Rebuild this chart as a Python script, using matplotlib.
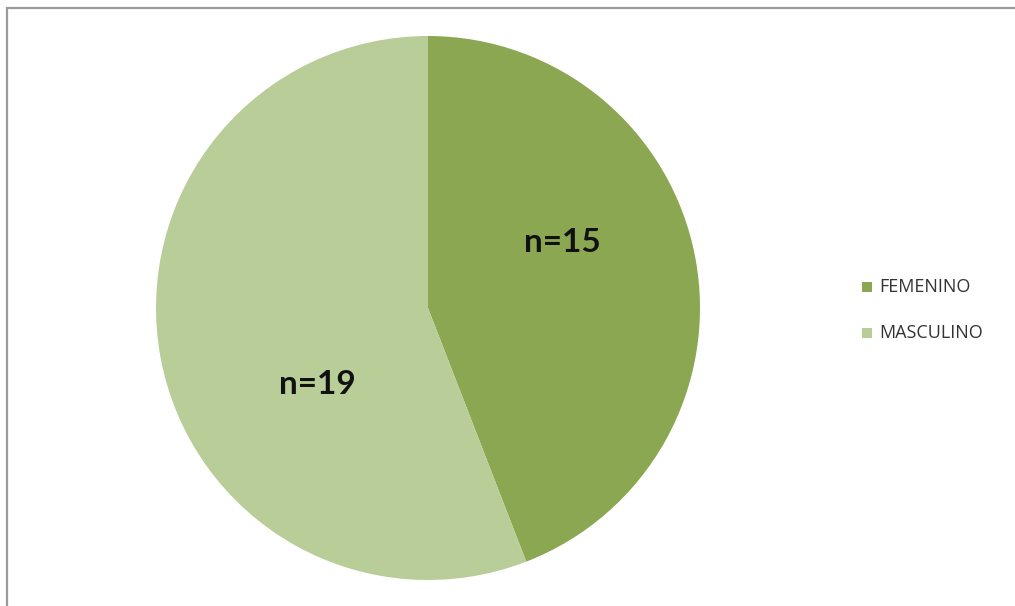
import matplotlib
matplotlib.use("Agg")
import matplotlib.pyplot as plt
from matplotlib.patches import Rectangle

categories = ["FEMENINO", "MASCULINO"]
counts = [15, 19]
colors = ["#8BA752", "#B8CD97"]

W, H = 1015, 606
fig = plt.figure(figsize=(W / 100, H / 100), dpi=100)
fig.patch.set_facecolor("white")

# chart frame (open on right and bottom)
fig.add_artist(Rectangle((7 / W, -0.05), 1.1, 1 - 8 / H + 0.05,
                         transform=fig.transFigure, fill=False,
                         edgecolor="#9a9a9a", linewidth=1.6))

# pie axes: centre (428, 308), radius 272 px
cx, cy, r = 428, 308, 272
ax = fig.add_axes([(cx - r) / W, (H - cy - r) / H, 2 * r / W, 2 * r / H])
wedges, _ = ax.pie(counts, colors=colors, startangle=90, counterclock=False,
                   radius=1.0, wedgeprops=dict(linewidth=0))
ax.set_xlim(-1, 1)
ax.set_ylim(-1, 1)
ax.set_aspect("equal")
ax.axis("off")

# in-slice labels
label_pos = [(0.495, 0.24), (-0.405, -0.28)]
for (x, y), n in zip(label_pos, counts):
    ax.text(x, y, f"n={n}", ha="center", va="center", fontsize=24,
            fontweight="bold", family="Lato", color="#111111")

# legend
for i, (cat, col) in enumerate(zip(categories, colors)):
    ly = 1 - (287 + i * 46) / H
    fig.add_artist(Rectangle((862 / W, ly - 5 / H), 10 / W, 10 / H,
                             transform=fig.transFigure, facecolor=col,
                             edgecolor="none"))
    fig.text(879 / W, ly, cat, ha="left", va="center", fontsize=13,
             family="Open Sans", color="#333333")

fig.savefig("out.png", dpi=100)
